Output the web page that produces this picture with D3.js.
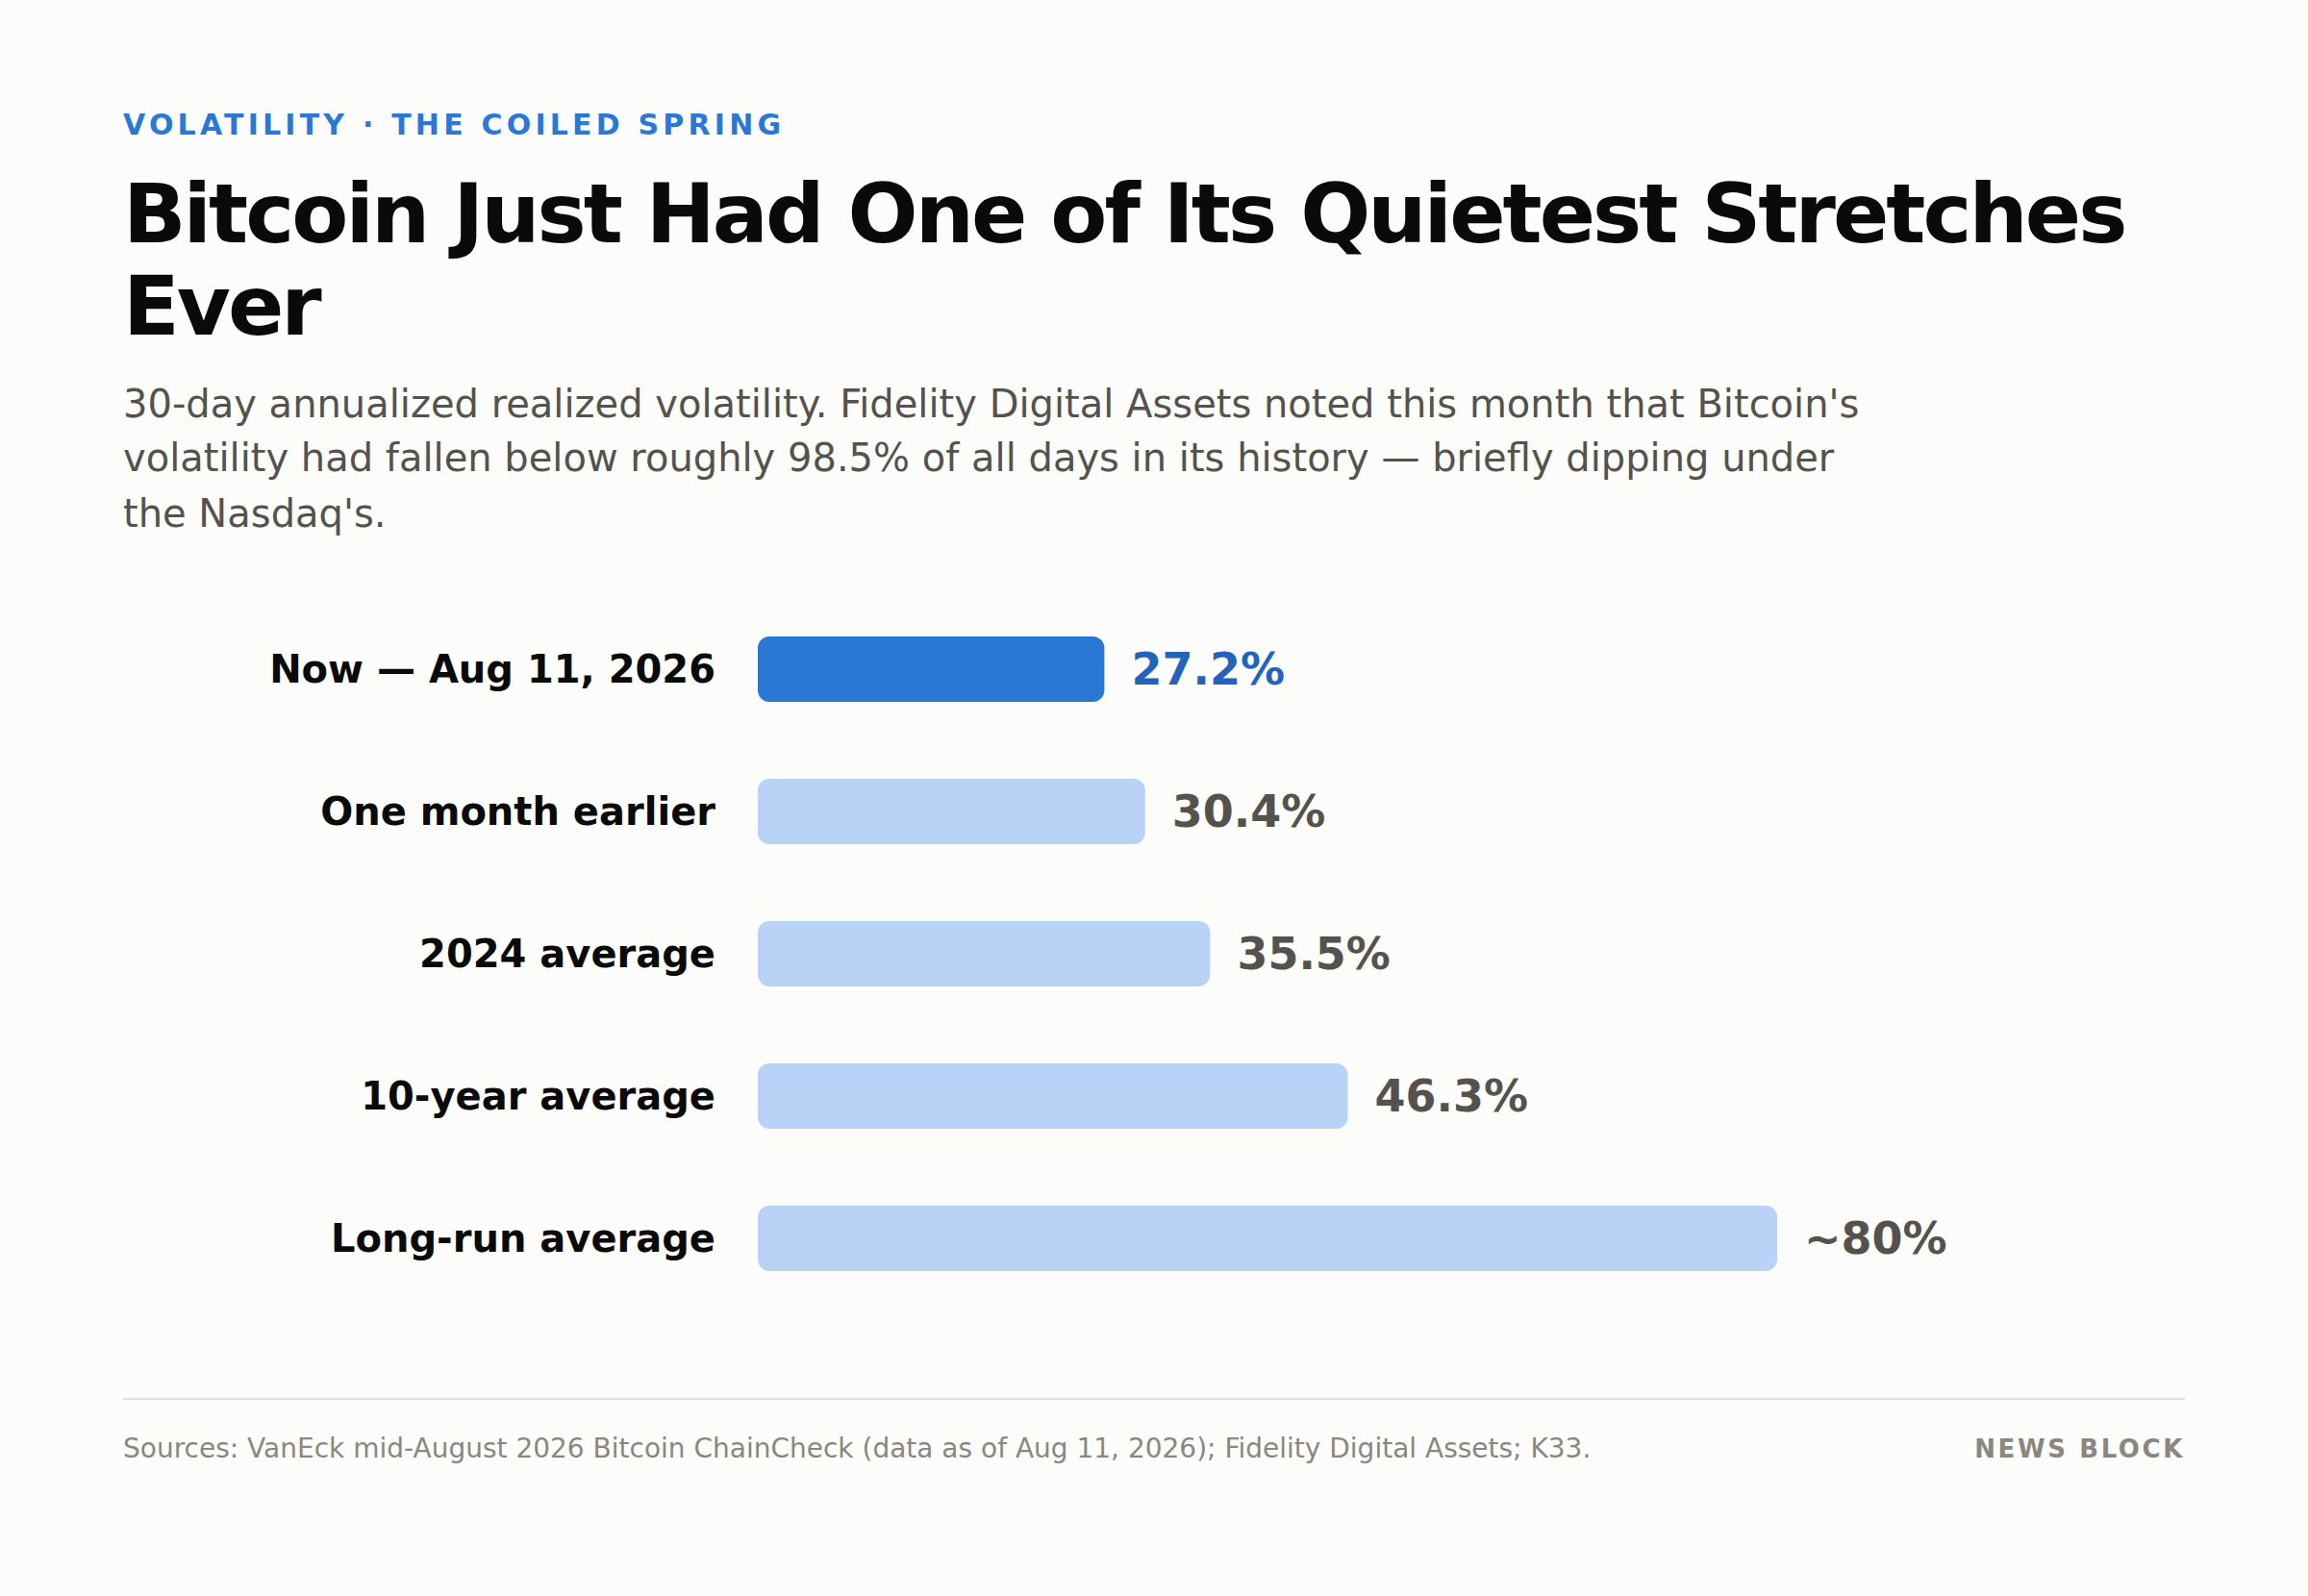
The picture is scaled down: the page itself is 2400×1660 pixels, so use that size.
<!DOCTYPE html>
<html>
<head>
<meta charset="utf-8">
<title>Bitcoin volatility</title>
<script src="https://cdn.jsdelivr.net/npm/d3@7"></script>
<style>
  html, body { margin: 0; padding: 0; background: #fcfcfa; }
  svg { display: block; }
  text { font-family: "DejaVu Sans", sans-serif; }
</style>
</head>
<body>
<script>
// chart values
var categories = ["Now — Aug 11, 2026", "One month earlier", "2024 average", "10-year average", "Long-run average"];
var values = [27.2, 30.4, 35.5, 46.3, 80];
var valueLabels = ["27.2%", "30.4%", "35.5%", "46.3%", "~80%"];

// copy
var kicker = "VOLATILITY · THE COILED SPRING";
var titleLines = ["Bitcoin Just Had One of Its Quietest Stretches", "Ever"];
var subLines = [
  "30-day annualized realized volatility. Fidelity Digital Assets noted this month that Bitcoin's",
  "volatility had fallen below roughly 98.5% of all days in its history — briefly dipping under",
  "the Nasdaq's."
];
var source = "Sources: VanEck mid-August 2026 Bitcoin ChainCheck (data as of Aug 11, 2026); Fidelity Digital Assets; K33.";
var brand = "NEWS BLOCK";

var w = 2400, h = 1660;

var svg = d3.select("body").append("svg")
  .attr("width", w)
  .attr("height", h);

svg.append("rect")
  .attr("width", w)
  .attr("height", h)
  .attr("fill", "#fcfcfa");

// header
svg.append("text")
  .attr("x", 128)
  .attr("y", 140)
  .attr("font-size", 30)
  .attr("font-weight", 700)
  .attr("letter-spacing", 4.2)
  .attr("fill", "#2a78d6")
  .text(kicker);

svg.selectAll(".title").data(titleLines).enter().append("text")
  .attr("class", "title")
  .attr("x", 128)
  .attr("y", function(d, i){ return 252 + i * 96; })
  .attr("font-size", 86)
  .attr("font-weight", 700)
  .attr("letter-spacing", -2.96)
  .attr("fill", "#0a0a0a")
  .text(function(d){ return d; });

svg.selectAll(".sub").data(subLines).enter().append("text")
  .attr("class", "sub")
  .attr("x", 128)
  .attr("y", function(d, i){ return [434, 490, 548][i]; })
  .attr("font-size", 40)
  .attr("fill", "#55524e")
  .text(function(d){ return d; });

// scales
var x = d3.scaleLinear().domain([0, 80]).range([788, 1848]);
var y = d3.scaleBand().domain(categories).range([662, 1322]).paddingInner(80 / 148).paddingOuter(0);

// category labels
var yAxis = d3.axisLeft(y).tickSize(0).tickPadding(44);
var axisG = svg.append("g")
  .attr("transform", "translate(" + x(0) + ",1)")
  .call(yAxis);
axisG.select(".domain").remove();
axisG.selectAll("text")
  .attr("font-family", "DejaVu Sans")
  .attr("font-size", 40)
  .attr("font-weight", 700)
  .attr("fill", "#0a0a0a");

// bars
svg.selectAll(".bar").data(values).enter().append("rect")
  .attr("class", "bar")
  .attr("x", x(0))
  .attr("y", function(d, i){ return y(categories[i]); })
  .attr("width", function(d){ return x(d) - x(0); })
  .attr("height", y.bandwidth())
  .attr("rx", 12)
  .attr("fill", function(d, i){ return i === 0 ? "#2a78d6" : "#b8d3f6"; });

// value labels
svg.selectAll(".val").data(values).enter().append("text")
  .attr("class", "val")
  .attr("x", function(d){ return x(d) + 28; })
  .attr("y", function(d, i){ return y(categories[i]) + y.bandwidth() / 2; })
  .attr("dy", "0.35em")
  .attr("font-size", 46)
  .attr("font-weight", 700)
  .attr("fill", function(d, i){ return i === 0 ? "#2264ba" : "#55524e"; })
  .text(function(d, i){ return valueLabels[i]; });

// footer
svg.append("line")
  .attr("x1", 128)
  .attr("x2", 2272)
  .attr("y1", 1455)
  .attr("y2", 1455)
  .attr("stroke", "#e2e2dc")
  .attr("stroke-width", 2);

svg.append("text")
  .attr("x", 128)
  .attr("y", 1516)
  .attr("font-size", 28)
  .attr("fill", "#8a8780")
  .text(source);

svg.append("text")
  .attr("x", 2272)
  .attr("y", 1516)
  .attr("text-anchor", "end")
  .attr("font-size", 26)
  .attr("font-weight", 700)
  .attr("letter-spacing", 2.6)
  .attr("fill", "#8a8780")
  .text(brand);
</script>
</body>
</html>
